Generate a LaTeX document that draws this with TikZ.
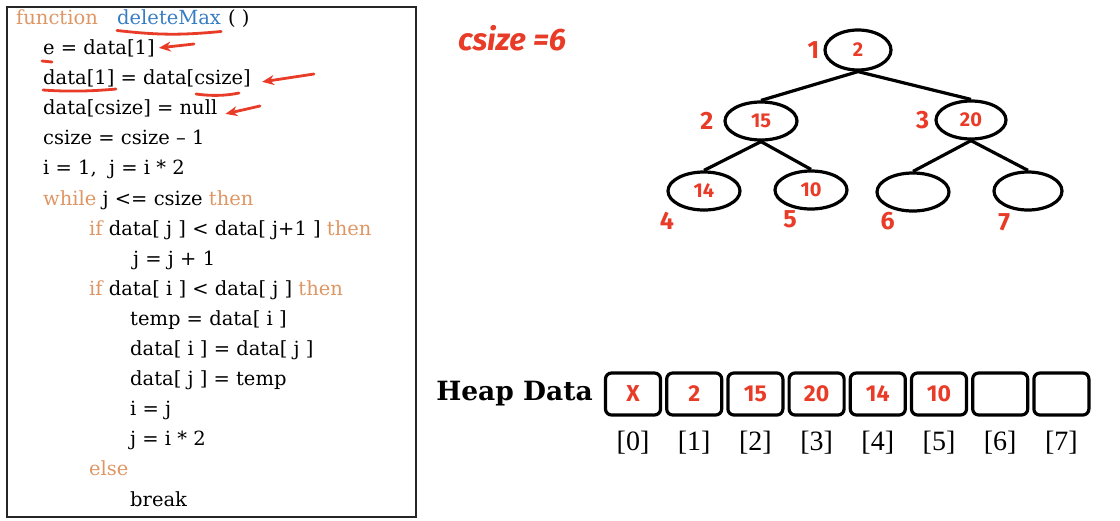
\documentclass[tikz,border=0pt]{standalone}
\usepackage{fontspec}
\setmainfont{Liberation Serif}
\newfontfamily\codefont{DejaVu Serif}
\newfontfamily\handfont{Fira Sans}
\usetikzlibrary{arrows.meta,positioning,shapes.geometric}
\tikzset{
	code/.style={anchor=base west, inner sep=0, font=\codefont\fontsize{19.5}{22}\selectfont},
	pen/.style={draw=penColor, line width=2.8pt, line cap=round},
	heapnode/.style={draw, ellipse, line width=3.2pt, inner sep=0, minimum width=72, minimum height=38,
		text=penColor, font=\handfont\bfseries\fontsize{20}{20}\selectfont},
	idx/.style={text=penColor, inner sep=0, font=\handfont\bfseries\fontsize{25}{25}\selectfont},
	branch/.style={line width=3.2pt},
	cell/.style={draw, rounded corners=6, line width=3.2pt, minimum width=55, minimum height=42,
		text=penColor, font=\handfont\bfseries\fontsize{23}{23}\selectfont},
	cellindex/.style={inner sep=0, font=\fontsize{28}{28}\selectfont}
}
\definecolor{kwColor}{HTML}{DE9664}
\definecolor{fnColor}{HTML}{377DC3}
\definecolor{penColor}{HTML}{E83C28}
\newcommand{\kw}[1]{\textcolor{kwColor}{#1}}

\begin{document}
\begin{tikzpicture}[x=1pt, y=-1pt]
	\useasboundingbox (0,0) rectangle (1120,520);
	% code panel
	\draw[line width=1.5pt, black!85] (7,7) rectangle (416,517);
	\node[code] (l0) at (16,24) {\kw{function}};
	\node[code, text=fnColor] (fn) at (117,24) {deleteMax};
	\node[code] (par) at (228,24) {( )};
	\node[code] (l1) at (43,54) {e = data[1]};
	\node[code] (l2) at (43,84) {data[1] = data[csize]};
	\node[code] (l3) at (43,114) {data[csize] = null};
	\node[code] (l4) at (43,144) {csize = csize – 1};
	\node[code] (l5) at (43,174) {i = 1,\ \ j = i * 2};
	\node[code] (l6) at (43,205) {\kw{while} j <= csize \kw{then}};
	\node[code] (l7) at (89,235) {\kw{if} data[ j ] < data[ j+1 ] \kw{then}};
	\node[code] (l8) at (133,265) {j = j + 1};
	\node[code] (l9) at (89,295) {\kw{if} data[ i ] < data[ j ] \kw{then}};
	\node[code] (l10) at (130,325) {temp = data[ i ]};
	\node[code] (l11) at (130,355) {data[ i ] = data[ j ]};
	\node[code] (l12) at (130,385) {data[ j ] = temp};
	\node[code] (l13) at (130,415) {i = j};
	\node[code] (l14) at (130,445) {j = i * 2};
	\node[code] (l15) at (89,475) {\kw{else}};
	\node[code] (l16) at (130,506) {break};
	
	% pen marks on the code
	\draw[pen] ([yshift=-6pt]fn.south west) to[bend right=6] ([yshift=-7pt]fn.south east);
	\draw[pen] (42,61) -- (52,62);
	\draw[pen] (43,90) .. controls (70,92) and (95,91) .. (116,89);
	\draw[pen] (196,94) .. controls (210,96) and (225,96) .. (239,93);
	\coordinate (a1) at (194,44);
	\coordinate (a2) at (314,74);
	\coordinate (a3) at (260,106);
	\draw[pen, -{Stealth[length=12pt, width=10pt]}] (a1) -- ([xshift=4pt]l1.east);
	\draw[pen, -{Stealth[length=12pt, width=10pt]}] (a2) -- ([xshift=11pt, yshift=-4pt]l2.east);
	\draw[pen, -{Stealth[length=12pt, width=10pt]}] (a3) -- ([xshift=8pt, yshift=-6pt]l3.east);
	\node[text=penColor, font=\handfont\itshape\bfseries\fontsize{31}{31}\selectfont] (csz) at (512,38) {csize =6};
	
	% tree
	\node[heapnode, minimum width=66, minimum height=40, label={[idx, label distance=4pt]left:1}] (n1) at (858,50) {2};
	\node[heapnode, label={[idx, label distance=10pt]left:2}] (n2) at (761,121) {15};
	\node[heapnode, minimum width=70, label={[idx, label distance=5pt]left:3}] (n3) at (971,120) {20};
	\node[heapnode, label={[idx, label distance=8pt]215:4}] (n4) at (704,191) {14};
	\node[heapnode, label={[idx, label distance=1pt]235:5}] (n5) at (811,190) {10};
	\node[heapnode, label={[idx, label distance=2pt]228:6}] (n6) at (913,192) {};
	\node[heapnode, minimum width=68, label={[idx, label distance=5pt]232:7}] (n7) at (1028,191) {};
	\draw[branch] (n1.south) -- (n2.north);
	\draw[branch] (n1.south) -- (n3.north);
	\draw[branch] (n2.south) -- (n4.north);
	\draw[branch] (n2.south) -- (n5.north);
	\draw[branch] (n3.south) -- (n6.north);
	\draw[branch] (n3.south) -- (n7.north);
	
	% array
	\node[cell] (c0) at (633,394) {X};
	\node[cell, right=3pt of c0] (c1) {2};
	\node[cell, right=3pt of c1] (c2) {15};
	\node[cell, right=3pt of c2] (c3) {20};
	\node[cell, right=3pt of c3] (c4) {14};
	\node[cell, right=3pt of c4] (c5) {10};
	\node[cell, right=3pt of c5] (c6) {};
	\node[cell, right=3pt of c6] (c7) {};
	\node[inner sep=0, left=11pt of c0, font=\codefont\bfseries\fontsize{26.5}{26.5}\selectfont] (hd) {Heap Data};
	\node[cellindex, below=14pt of c0] (i0) {[0]};
	\node[cellindex, below=14pt of c1] (i1) {[1]};
	\node[cellindex, below=14pt of c2] (i2) {[2]};
	\node[cellindex, below=14pt of c3] (i3) {[3]};
	\node[cellindex, below=14pt of c4] (i4) {[4]};
	\node[cellindex, below=14pt of c5] (i5) {[5]};
	\node[cellindex, below=14pt of c6] (i6) {[6]};
	\node[cellindex, below=14pt of c7] (i7) {[7]};
\end{tikzpicture}
\end{document}
